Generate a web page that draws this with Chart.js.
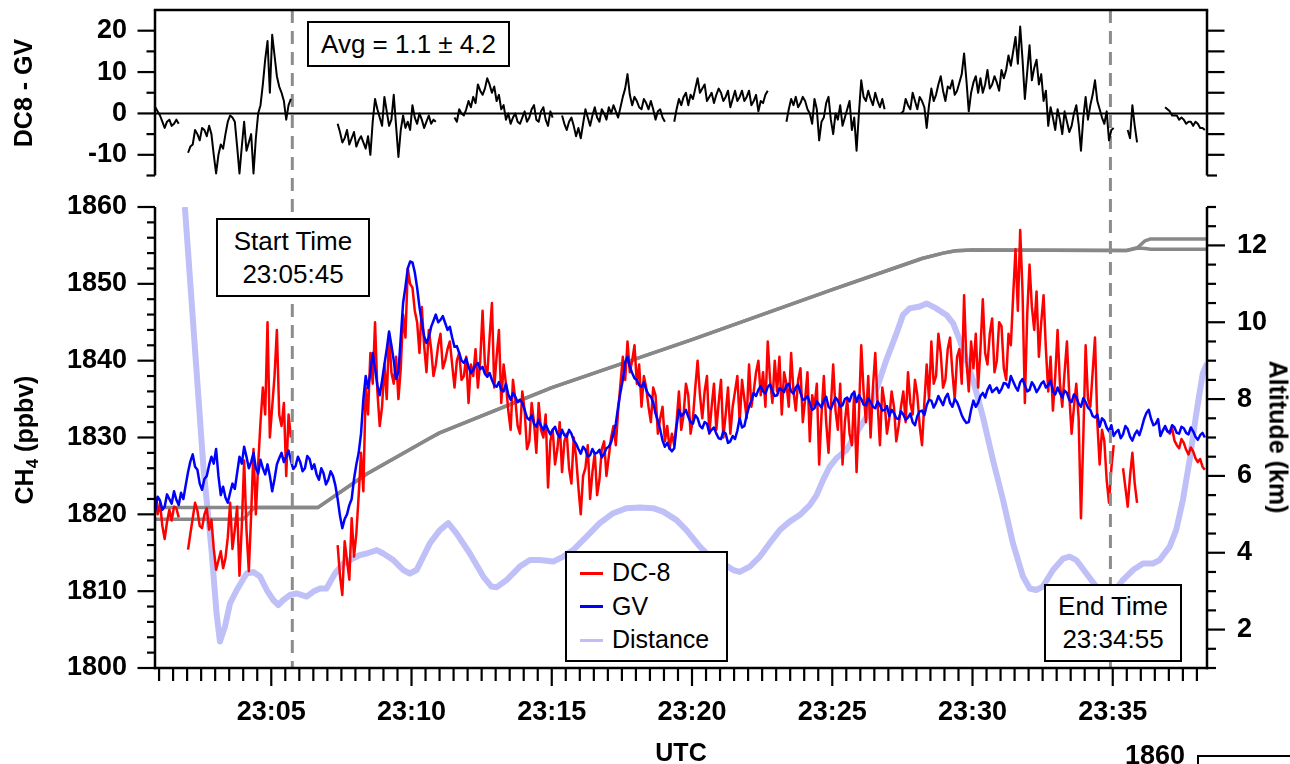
<!DOCTYPE html>
<html>
<head>
<meta charset="utf-8">
<title>CH4 DC-8 vs GV</title>
<script src="https://cdn.jsdelivr.net/npm/chart.js@4.4.1/dist/chart.umd.min.js"></script>
<style>
  html, body { margin: 0; padding: 0; background: #fff; }
  #wrap { position: relative; width: 1290px; height: 764px; overflow: hidden;
          font-family: "Liberation Sans", Arial, sans-serif; color: #000; }
  #wrap canvas { position: absolute; left: 0; top: 0; }
  .box { position: absolute; box-sizing: border-box; border: 2.5px solid #000; background: #fff;
         display: flex; flex-direction: column; justify-content: center; align-items: center;
         font-size: 26px; line-height: 33px; z-index: 5; }
  .title { position: absolute; font-weight: bold; font-size: 25px; line-height: 1; white-space: nowrap;
           z-index: 5; }
  .title sub { font-size: 17px; vertical-align: -5px; line-height: 0; }
  #legend { align-items: flex-start; font-size: 25px; }
  #legend .row { display: flex; align-items: center; height: 33.5px; line-height: 33.5px; padding-left: 13px; }
  #legend .swatch { display: inline-block; width: 23px; height: 3px; margin-right: 9px; }
  #stray { position: absolute; left: 1125px; top: 742px; font-weight: bold; font-size: 27px; line-height: 1; }
  #strayAxis { position: absolute; left: 1197px; top: 755px; width: 100px; height: 20px;
               border-top: 2.5px solid #000; border-left: 2.5px solid #000; }
</style>
</head>
<body>
<div id="wrap">
  <canvas id="bottomChart" width="1290" height="764"></canvas>
  <canvas id="topChart" width="1290" height="300" style="top:-60px"></canvas>

  <div class="title" style="left:23px; top:93px; transform: translate(-50%,-50%) rotate(-90deg);">DC8 - GV</div>
  <div class="title" style="left:24px; top:440px; transform: translate(-50%,-50%) rotate(-90deg);">CH<sub>4</sub> (ppbv)</div>
  <div class="title" style="left:1278px; top:437px; transform: translate(-50%,-50%) rotate(90deg);">Altitude (km)</div>
  <div class="title" style="left:681px; top:752px; transform: translate(-50%,-50%);">UTC</div>

  <div class="box" style="left:307px; top:21px; width:203px; height:46px;">Avg = 1.1 &plusmn; 4.2</div>
  <div class="box" style="left:216px; top:218px; width:154px; height:79px;"><div>Start Time</div><div>23:05:45</div></div>
  <div class="box" style="left:1044px; top:584px; width:138px; height:78px;"><div>End Time</div><div>23:34:55</div></div>

  <div id="legend" class="box" style="left:565px; top:551px; width:163px; height:111px;">
    <div class="row"><span class="swatch" style="background:rgb(255,0,0)"></span>DC-8</div>
    <div class="row"><span class="swatch" style="background:rgb(0,0,255)"></span>GV</div>
    <div class="row"><span class="swatch" style="background:rgb(196,188,246)"></span>Distance</div>
  </div>

  <div id="stray">1860</div>
  <div id="strayAxis"></div>
</div>

<script>
// samples every 5 s starting at 23:00:52 (x axis in minutes after 23:00)
const startSec = 52;
const stepSec = 5;

// DC-8 CH4 (ppbv)
const dc8Ch4 = [
  1822.3, 1820.0, 1821.5, 1818.5, 1816.8, 1819.0, 1820.6, 1819.2, 1821.0, 1820.8, 1819.6, null, null, null, 1815.4, 1817.5, 1819.5, 1821.5, 1820.5, 1818.5,
  1818.2, 1820.0, 1820.8, 1818.0, 1819.3, 1815.5, 1812.8, 1814.0, 1815.2, 1813.0, 1814.3, 1817.0, 1821.5, 1815.5, 1818.0, 1821.0, 1812.0, 1818.5, 1827.0, 1818.0,
  1812.6, 1820.0, 1828.5, 1820.0, 1826.5, 1832.0, 1836.5, 1833.0, 1845.0, 1830.0, 1834.0, 1838.0, 1844.0, 1833.0, 1831.5, 1834.5, 1825.0, 1833.0, 1830.0, null,
  null, null, null, null, null, null, null, null, null, null, null, null, null, null, null, null, null, null, 1816.0, 1812.0,
  1809.5, 1816.5, 1814.0, 1811.5, 1819.5, 1814.5, 1817.5, 1822.5, 1828.0, 1823.0, 1836.5, 1833.0, 1841.0, 1837.0, 1845.0, 1836.0, 1831.5, 1834.0, 1839.5, 1835.0,
  1843.5, 1838.5, 1837.0, 1840.5, 1835.0, 1839.0, 1846.0, 1843.0, 1852.0, 1850.0, 1849.5, 1846.5, 1845.0, 1841.0, 1847.0, 1842.0, 1838.5, 1844.0, 1841.5, 1838.0,
  1839.5, 1842.0, 1843.5, 1839.0, 1840.0, 1841.5, 1842.5, 1839.5, 1836.5, 1840.0, 1841.0, 1837.5, 1838.0, 1840.5, 1834.5, 1839.5, 1838.0, 1841.5, 1836.5, 1840.0,
  1846.5, 1839.5, 1838.0, 1843.0, 1847.5, 1836.5, 1840.5, 1844.0, 1834.5, 1839.5, 1837.0, 1833.5, 1831.0, 1837.5, 1835.0, 1831.5, 1830.5, 1836.0, 1833.5, 1828.5,
  1829.5, 1834.5, 1832.0, 1828.0, 1834.5, 1831.0, 1830.0, 1833.0, 1823.5, 1829.5, 1831.0, 1826.5, 1828.5, 1832.0, 1825.5, 1829.5, 1830.5, 1826.0, 1824.0, 1830.0,
  1827.5, 1823.5, 1820.0, 1825.0, 1826.0, 1829.0, 1822.0, 1825.5, 1828.0, 1822.5, 1824.5, 1828.5, 1829.5, 1825.0, 1827.5, 1830.0, 1831.5, 1829.0, 1833.5, 1837.0,
  1840.5, 1837.5, 1842.5, 1838.5, 1840.0, 1842.0, 1837.0, 1839.5, 1834.0, 1838.0, 1836.5, 1834.0, 1832.0, 1836.5, 1835.5, 1830.5, 1832.5, 1834.0, 1829.5, 1831.5,
  1828.5, 1830.5, 1829.0, 1832.0, 1836.0, 1831.0, 1833.0, 1837.0, 1835.5, 1830.5, 1832.5, 1836.5, 1840.0, 1835.5, 1832.5, 1836.0, 1838.0, 1830.5, 1834.0, 1837.0,
  1831.0, 1834.5, 1837.5, 1830.0, 1833.0, 1836.5, 1830.5, 1834.0, 1836.0, 1838.0, 1832.0, 1837.5, 1835.0, 1832.5, 1839.5, 1834.0, 1836.0, 1838.5, 1840.0, 1835.5,
  1838.5, 1834.0, 1842.5, 1837.5, 1834.5, 1840.0, 1836.0, 1840.5, 1833.0, 1838.5, 1837.0, 1834.0, 1841.0, 1836.0, 1833.5, 1837.5, 1839.0, 1832.0, 1835.0, 1838.5,
  1829.5, 1835.5, 1834.0, 1837.0, 1826.5, 1833.0, 1838.0, 1832.0, 1828.0, 1834.0, 1839.5, 1833.5, 1831.0, 1837.0, 1826.5, 1832.0, 1835.0, 1830.5, 1829.0, 1836.0,
  1825.5, 1833.0, 1842.0, 1836.0, 1832.0, 1838.0, 1830.0, 1836.5, 1841.0, 1834.5, 1829.0, 1836.5, 1834.5, 1830.5, 1832.5, 1836.0, 1834.0, 1829.5, 1831.5, 1834.0,
  1836.0, 1832.0, 1838.5, 1834.5, 1833.0, 1837.5, 1835.5, 1831.5, 1829.0, 1834.5, 1839.5, 1835.0, 1842.5, 1837.0, 1838.0, 1843.5, 1841.0, 1836.5, 1837.5, 1841.5,
  1843.0, 1838.5, 1835.0, 1840.5, 1841.5, 1837.0, 1848.5, 1840.0, 1836.0, 1842.5, 1839.0, 1843.5, 1836.5, 1841.5, 1848.0, 1841.0, 1839.5, 1843.5, 1845.5, 1838.5,
  1840.0, 1845.0, 1844.5, 1839.0, 1837.5, 1843.5, 1842.0, 1848.5, 1854.5, 1846.5, 1857.0, 1849.0, 1834.5, 1846.0, 1852.5, 1847.0, 1844.0, 1849.0, 1840.5, 1845.0,
  1848.5, 1841.5, 1836.0, 1840.5, 1833.5, 1838.0, 1844.0, 1837.0, 1834.0, 1838.5, 1842.5, 1835.5, 1830.5, 1834.0, 1837.0, 1832.5, 1819.5, 1830.0, 1842.0, 1835.0,
  1834.0, 1838.5, 1843.0, 1832.0, 1826.5, 1831.0, 1829.5, 1824.5, 1821.5, 1826.0, 1829.0, null, null, null, 1826.0, 1823.5, 1821.0, 1825.0, 1828.0, 1824.0,
  1821.5, null, null, null, null, null, null, null, null, null, null, null, 1831.3, 1830.8, 1830.5, 1831.2, 1829.6, 1829.0, 1828.6, 1829.8,
  1829.3, 1828.4, 1827.8, 1828.7, 1828.2, 1827.3, 1826.8, 1827.2, 1826.2, 1825.8
];

// GV CH4 (ppbv)
const gvCh4 = [
  1820.5, 1822.3, 1821.8, 1820.6, 1821.0, 1822.6, 1822.0, 1821.4, 1823.0, 1821.9, 1821.2, 1822.8, 1822.0, 1823.8, 1825.5, 1826.9, 1827.8, 1826.2, 1825.8, 1824.0,
  1823.2, 1824.6, 1825.0, 1826.4, 1827.5, 1826.6, 1828.5, 1825.0, 1822.5, 1823.6, 1822.2, 1821.5, 1822.8, 1824.0, 1823.3, 1825.4, 1827.5, 1826.6, 1828.8, 1827.5,
  1826.0, 1826.8, 1828.0, 1826.0, 1825.3, 1827.1, 1826.0, 1825.2, 1826.5, 1825.0, 1823.0, 1824.6, 1826.5, 1827.3, 1828.0, 1826.8, 1827.5, 1828.3, 1827.0, 1825.9,
  1826.3, 1827.5, 1826.8, 1825.6, 1826.0, 1827.6, 1827.2, 1825.9, 1826.5, 1825.2, 1824.5, 1826.0, 1825.3, 1823.9, 1824.5, 1825.6, 1825.0, 1823.8, 1822.0, 1819.8,
  1818.2, 1819.4, 1820.0, 1821.2, 1822.0, 1824.6, 1826.5, 1828.0, 1830.5, 1835.0, 1838.0, 1836.4, 1838.5, 1841.0, 1839.0, 1836.8, 1835.5, 1837.4, 1839.5, 1841.5,
  1843.8, 1842.0, 1840.0, 1837.6, 1838.5, 1843.0, 1847.5, 1849.6, 1852.0, 1852.9, 1852.8, 1851.5, 1849.5, 1847.0, 1845.0, 1843.2, 1842.3, 1843.0, 1844.4, 1845.2,
  1846.0, 1845.0, 1845.3, 1845.8, 1844.9, 1844.0, 1844.4, 1843.0, 1841.8, 1841.9, 1841.0, 1840.0, 1839.7, 1840.3, 1839.2, 1838.4, 1838.8, 1839.4, 1839.7, 1838.9,
  1839.2, 1838.3, 1837.9, 1838.4, 1837.5, 1836.8, 1836.6, 1837.2, 1836.2, 1836.0, 1837.0, 1835.6, 1834.9, 1835.8, 1835.3, 1834.6, 1834.9, 1834.5, 1833.6, 1832.6,
  1832.3, 1832.9, 1831.8, 1831.4, 1832.3, 1831.5, 1831.0, 1831.7, 1831.0, 1830.4, 1831.0, 1831.4, 1830.5, 1830.0, 1831.0, 1830.3, 1830.1, 1831.0, 1830.5, 1829.6,
  1829.2, 1828.5, 1827.9, 1828.8, 1828.4, 1827.5, 1827.7, 1828.5, 1827.9, 1828.0, 1828.4, 1827.4, 1827.9, 1828.6, 1828.8, 1829.4, 1830.5, 1831.8, 1834.0, 1835.9,
  1837.5, 1839.8, 1840.5, 1839.2, 1838.4, 1837.7, 1837.5, 1836.8, 1836.6, 1837.2, 1836.2, 1835.6, 1835.3, 1834.6, 1833.1, 1832.2, 1831.0, 1829.6, 1828.8, 1829.3,
  1828.6, 1828.2, 1828.6, 1831.5, 1833.6, 1832.8, 1833.1, 1833.6, 1832.7, 1832.0, 1831.8, 1832.9, 1832.5, 1831.5, 1831.2, 1832.0, 1831.8, 1830.6, 1831.0, 1831.3,
  1830.5, 1829.9, 1829.8, 1830.8, 1830.5, 1829.3, 1829.5, 1830.2, 1829.8, 1830.9, 1832.5, 1831.3, 1831.5, 1832.9, 1834.0, 1834.8, 1835.8, 1835.4, 1836.2, 1836.7,
  1836.0, 1835.7, 1836.6, 1836.9, 1836.0, 1835.4, 1835.5, 1836.4, 1836.2, 1835.9, 1836.8, 1837.0, 1836.0, 1835.7, 1836.5, 1836.9, 1835.8, 1834.9, 1835.0, 1835.4,
  1834.5, 1833.6, 1833.8, 1834.7, 1834.3, 1833.9, 1834.8, 1835.3, 1834.0, 1833.7, 1834.5, 1835.2, 1834.8, 1834.0, 1834.2, 1835.0, 1835.2, 1834.7, 1835.6, 1835.9,
  1834.6, 1835.5, 1835.0, 1834.3, 1834.2, 1835.1, 1834.6, 1834.0, 1833.8, 1834.7, 1834.2, 1833.5, 1833.6, 1834.1, 1832.8, 1833.6, 1833.2, 1832.5, 1832.4, 1833.4,
  1833.0, 1832.3, 1832.6, 1833.1, 1832.0, 1831.6, 1832.8, 1833.4, 1833.5, 1832.9, 1834.2, 1834.9, 1834.8, 1833.9, 1834.5, 1835.4, 1834.8, 1834.2, 1835.2, 1835.7,
  1834.5, 1834.0, 1835.0, 1834.6, 1833.8, 1832.9, 1832.3, 1831.9, 1832.0, 1833.6, 1834.8, 1834.0, 1834.5, 1835.4, 1835.8, 1835.2, 1836.2, 1836.8, 1835.9, 1836.2,
  1836.5, 1835.8, 1836.3, 1837.1, 1837.0, 1836.5, 1838.0, 1837.3, 1836.6, 1836.1, 1837.2, 1837.6, 1836.8, 1836.0, 1836.2, 1837.2, 1836.7, 1835.9, 1836.4, 1837.0,
  1837.3, 1836.5, 1836.8, 1837.4, 1836.0, 1835.6, 1836.5, 1835.8, 1835.2, 1836.1, 1835.8, 1834.9, 1834.6, 1835.6, 1835.3, 1834.4, 1834.0, 1835.1, 1834.6, 1833.9,
  1833.6, 1832.8, 1832.6, 1833.0, 1831.4, 1832.5, 1832.2, 1831.3, 1830.8, 1831.6, 1830.2, 1830.7, 1831.0, 1829.9, 1830.4, 1831.5, 1831.1, 1830.1, 1829.6, 1830.4,
  1830.9, 1830.3, 1831.3, 1832.4, 1833.2, 1833.6, 1832.4, 1831.6, 1831.8, 1832.4, 1830.2, 1830.9, 1831.5, 1830.8, 1830.7, 1831.6, 1831.3, 1830.6, 1830.5, 1831.4,
  1831.2, 1830.6, 1830.4, 1831.3, 1830.8, 1830.1, 1829.7, 1830.3, 1830.6, 1830.0
];

// DC8 - GV difference (ppbv), top panel
const dc8MinusGv = [
  1.5, 0.5, -0.5, -2.0, -3.5, -2.0, -1.5, -3.0, -2.5, -1.5, -2.5, null, null, null, -9.5, -8.0, -7.5, -4.0, -5, -6.5,
  -3.5, -4.0, -5.5, -3.0, -5, -10.0, -14.5, -10.0, -7.5, -8.5, -5, -2.0, -0.5, -1.0, -2, -8.0, -14.5, -8.0, -2, -9.0,
  -7, -5.0, -14.5, -6.0, 0, 2.0, 7, 13.0, 17.5, 5.0, 19, 14.0, 9, 6.5, 5, 3.0, -1.5, 2.0, 3.5, null,
  null, null, null, null, null, null, null, null, null, null, null, null, null, null, null, null, null, null, -2.5, -4.5,
  -7, -6.0, -4, -7.5, -6, -4.5, -8, -6.5, -5.5, -7.0, -8.5, -5.5, -10, -2.0, 3.5, 1.0, -1, -3.0, 4, 0.5,
  -3, -1.5, 4.5, -3.0, -10.5, -4.0, -0.5, -3.5, -2, -4.0, 2, -1.0, -2.5, 0.0, -1.5, -3.5, -2, -0.5, -2.5, -1.5,
  -2, null, null, null, null, null, null, null, -1, -2.0, 1, 0.0, -0.5, 1.0, 3, 1.5, 4, 2.5, 7, 5.5,
  4.5, 6.0, 8.5, 7.0, 5, 6.5, 3, 4.5, 1, 2.0, -1.5, 0.0, -2.5, -1.0, 0, -2.0, -2.5, -1.0, 0.5, -2.0,
  -1, 1.0, 2, -1.5, -2, 0.5, 1.5, -1.5, -3, 0.5, -1, null, null, null, -0.5, -2.5, -4, -2.0, -1, -3.0,
  -5.5, -3.5, -6, -2.5, 1, -1.0, -3, -0.5, 1.5, -1.0, -2, 1.0, 0, -1.5, 1.5, 0.0, 2, 0.5, -1, 1.5,
  4, 6.0, 9.5, 4.5, 2, 4.0, 3, 1.5, 1, 3.5, 2.5, 1.0, 3, 1.0, -1.5, 0.5, 1, -1.0, -2, null,
  null, null, -2, 1.0, 3.5, 2.0, 4, 5.0, 2, 4.5, 3.5, 6.0, 8.5, 5.0, 6, 7.0, 3, 4.0, 5, 2.5,
  4.5, 6.0, 5, 3.0, 4, 5.5, 1.5, 3.5, 5.5, 3.0, 4, 5.5, 3, 4.0, 5.5, 2.0, 3, 4.5, 0.5, 3.0,
  2.5, 4.5, 5.5, null, null, null, null, null, null, null, -2, 1.0, 3.5, 2.0, 4, 1.5, 2.5, 4.0, 3, 1.0,
  0, -2.5, 3.5, 1.0, -6.5, -2.0, -1, 2.5, 4, -1.5, -5, 0.0, -1.5, 2.0, -3, -1.0, 1, 3.0, -4, -1.0,
  -9, 0.0, 8, 4.0, 3, 5.5, 3.5, 2.0, 5, 3.0, 1.5, 3.5, 1, null, null, null, null, null, null, 0.0,
  0.5, 3.5, 2, 1.0, 5, 3.0, 1, 4.0, 3, 1.5, -3.5, 2.0, 6, 3.0, 4.5, 7.0, 9, 5.5, 3, 6.5,
  6, 8.0, 4.5, 5.5, 7.5, 9.5, 14.5, 8.0, 0.5, 5.0, 7.5, 9.0, 5, 8.5, 5, 7.0, 10.5, 6.0, 7, 9.0,
  7.5, 5.5, 10.5, 8.5, 10.5, 14.0, 11.5, 15.0, 18.5, 12.0, 21, 13.0, 3.5, 10.0, 16.5, 8.0, 11, 13.0, 7, 9.5,
  3, 5.5, -3, 1.5, -1, -4.0, 1, -1.5, -5, 0.5, -2, -4.5, -3, 0.0, 2, -2.5, -9, -1.0, 4, -1.5,
  2, 4.5, 8, 3.0, 1, -1.0, -2.5, 0.5, -6.5, -4.0, -3.5, null, null, null, null, null, -4, -6.0, 2, -3.0,
  -7, null, null, null, null, null, null, null, null, null, null, null, 1.5, 1.0, 0.5, -0.5, -0.5, -0.5, -1.5, -1.0,
  -1.5, -2.5, -2, -2.0, -3, -2.0, -2.5, -3.5, -3.5, -4.0
];

// distance between aircraft (km), minutes after 23:00
const distTime = [
  1.92, 2.58, 2.87, 3.05, 3.17, 3.35, 3.53, 3.77, 4.12, 4.36,
  4.60, 4.84, 5.07, 5.25, 5.43, 5.67, 5.90, 6.26, 6.50, 6.74,
  6.97, 7.27, 7.57, 7.80, 8.16, 8.40, 8.76, 8.99, 9.35, 9.71,
  9.94, 10.18, 10.42, 10.66, 11.01, 11.31, 11.61, 12.08, 12.56, 12.85,
  13.03, 13.39, 13.86, 14.22, 14.58, 15.05, 15.41, 15.76, 16.24, 16.71,
  17.19, 17.66, 18.14, 18.61, 18.97, 19.45, 19.80, 20.28, 20.63, 21.11,
  21.47, 21.70, 22.06, 22.42, 22.77, 23.13, 23.48, 23.84, 24.20, 24.44,
  24.67, 24.91, 25.15, 25.50, 25.86, 26.22, 26.57, 26.93, 27.29, 27.52,
  27.76, 28.12, 28.36, 28.71, 29.07, 29.31, 29.54, 29.78, 30.02, 30.37,
  30.73, 31.09, 31.44, 31.80, 32.04, 32.27, 32.51, 32.87, 33.23, 33.46,
  33.70, 34.06, 34.41, 34.77, 35.13, 35.36, 35.72, 36.08, 36.43, 36.67,
  37.03, 37.26, 37.50, 37.74, 37.98, 38.21, 38.36
];
const distKm = [
  13.0, 6.24, 4.07, 2.42, 1.69, 2.08, 2.68, 3.03, 3.46, 3.50,
  3.38, 3.03, 2.77, 2.64, 2.77, 2.90, 2.94, 2.86, 2.99, 3.07,
  3.07, 3.46, 3.72, 3.81, 3.94, 3.98, 4.07, 3.98, 3.81, 3.55,
  3.46, 3.55, 3.90, 4.25, 4.59, 4.77, 4.50, 3.98, 3.38, 3.12,
  3.10, 3.29, 3.64, 3.81, 3.81, 3.77, 3.90, 4.07, 4.42, 4.77,
  5.03, 5.16, 5.18, 5.16, 5.07, 4.85, 4.59, 4.16, 3.90, 3.72,
  3.55, 3.50, 3.64, 3.90, 4.25, 4.59, 4.81, 4.98, 5.24, 5.50,
  5.89, 6.24, 6.46, 6.67, 7.11, 7.54, 8.24, 9.02, 9.71, 10.19,
  10.36, 10.41, 10.49, 10.36, 10.19, 9.97, 9.54, 9.02, 8.50, 7.54,
  6.41, 5.37, 4.25, 3.38, 3.07, 3.03, 3.12, 3.55, 3.85, 3.90,
  3.81, 3.46, 3.12, 3.00, 3.07, 3.29, 3.55, 3.72, 3.72, 3.81,
  4.16, 4.59, 5.37, 6.41, 7.63, 8.67, 8.93
];

// altitudes of the two aircraft (km)
const altTimeA = [0.86, 6.67, 8.40, 10.65, 11.0, 15.0, 20.0, 25.0, 28.2, 28.95, 29.4, 30.0, 35.5, 35.9, 36.15, 36.35, 38.36];
const altKmA   = [5.18, 5.18, 6.05, 6.98, 7.12, 8.30, 9.55, 10.85, 11.66, 11.80, 11.86, 11.88, 11.87, 11.95, 12.12, 12.17, 12.17];
const altTimeB = [0.86, 4.0, 4.4, 6.67, 8.40, 10.65, 11.0, 15.0, 20.0, 25.0, 28.2, 28.95, 29.4, 30.0, 35.5, 35.9, 36.15, 36.35, 38.36];
const altKmB   = [4.87, 4.87, 5.18, 5.18, 6.05, 6.98, 7.12, 8.30, 9.55, 10.85, 11.66, 11.80, 11.86, 11.88, 11.87, 11.93, 11.92, 11.90, 11.90];

// axes
const timeTicks = [5, 10, 15, 20, 25, 30, 35];
const timeTickLabels = ['23:05', '23:10', '23:15', '23:20', '23:25', '23:30', '23:35'];
const ch4Ticks = [1800, 1810, 1820, 1830, 1840, 1850, 1860];
const altTicks = [2, 4, 6, 8, 10, 12];
const diffTicks = [-10, 0, 10, 20];
const markerTimes = [5 + 45 / 60, 34 + 55 / 60];   // 23:05:45 and 23:34:55

const xMin = 0.855, xMax = 38.36;
const topPanelTop = 10, topPanelBottom = 175.5;

const sampleMinutes = dc8Ch4.map((_, i) => (startSec + i * stepSec) / 60);
const pts = (xs, ys) => xs.map((x, i) => ({ x: x, y: ys[i] }));

const tickFont = { family: 'Liberation Sans', size: 27, weight: 'bold' };

function strokeLine(ctx, x1, y1, x2, y2) {
  ctx.beginPath();
  ctx.moveTo(x1, y1);
  ctx.lineTo(x2, y2);
  ctx.stroke();
}

function fixedTicks(values) {
  return function (scale) { scale.ticks = values.map(v => ({ value: v })); };
}

// frame, ticks and the two time markers of the lower panel
const bottomFrame = {
  id: 'bottomFrame',
  afterDatasetsDraw(chart) {
    const ctx = chart.ctx, a = chart.chartArea, xs = chart.scales.x;
    ctx.save();
    ctx.strokeStyle = 'rgb(140,140,140)';
    ctx.lineWidth = 3;
    ctx.setLineDash([13, 8]);
    markerTimes.forEach(t => {
      const x = xs.getPixelForValue(t);
      strokeLine(ctx, x, topPanelTop, x, a.bottom);
    });
    ctx.restore();
  },
  afterDraw(chart) {
    const ctx = chart.ctx, a = chart.chartArea;
    const xs = chart.scales.x, ys = chart.scales.y, ya = chart.scales.yAlt;
    ctx.save();
    ctx.strokeStyle = '#000';
    ctx.lineWidth = 2.5;
    strokeLine(ctx, a.left, a.top, a.left, a.bottom + 1.2);
    strokeLine(ctx, a.right, a.top, a.right, a.bottom + 1.2);
    strokeLine(ctx, a.left - 1.2, a.bottom, a.right + 1.2, a.bottom);
    ctx.lineWidth = 2.2;
    for (let v = 1800; v <= 1860; v += 2) {
      const y = ys.getPixelForValue(v);
      strokeLine(ctx, a.left - (v % 10 === 0 ? 17.5 : 8), y, a.left, y);
    }
    for (let v = 1; v <= 13; v += 0.5) {
      const y = ya.getPixelForValue(v);
      strokeLine(ctx, a.right, y, a.right + (altTicks.includes(v) ? 18 : 9), y);
    }
    for (let m = 1; m <= 38; m += 0.5) {
      const x = xs.getPixelForValue(m);
      strokeLine(ctx, x, a.bottom, x, a.bottom + (timeTicks.includes(m) ? 18 : 13));
    }
    ctx.restore();
  }
};

// frame, zero line and ticks of the upper panel
const topFrame = {
  id: 'topFrame',
  beforeDatasetsDraw(chart) {
    const ctx = chart.ctx, a = chart.chartArea, ys = chart.scales.y;
    ctx.save();
    ctx.strokeStyle = '#000';
    ctx.lineWidth = 2;
    const y0 = ys.getPixelForValue(0);
    strokeLine(ctx, a.left, y0, a.right, y0);
    ctx.restore();
  },
  afterDraw(chart) {
    const ctx = chart.ctx, a = chart.chartArea, ys = chart.scales.y;
    ctx.save();
    ctx.strokeStyle = '#000';
    ctx.lineWidth = 2.5;
    strokeLine(ctx, a.left - 1.2, a.top, a.right + 1.2, a.top);
    strokeLine(ctx, a.left, a.top, a.left, a.bottom);
    strokeLine(ctx, a.right, a.top, a.right, a.bottom);
    ctx.lineWidth = 2.2;
    for (let v = -15; v <= 20; v += 5) {
      const y = ys.getPixelForValue(v);
      const major = diffTicks.includes(v);
      strokeLine(ctx, a.left - (major ? 17.5 : 8.5), y, a.left, y);
      strokeLine(ctx, a.right, y, a.right + (v === -15 ? 10 : 17.5), y);
    }
    ctx.restore();
  }
};

const lineElements = { point: { radius: 0 }, line: { tension: 0, fill: false, borderJoinStyle: 'round' } };

new Chart(document.getElementById('bottomChart'), {
  type: 'line',
  data: {
    datasets: [
      { label: 'GV', data: pts(sampleMinutes, gvCh4), yAxisID: 'y',
        borderColor: 'rgb(0,0,255)', borderWidth: 2.5 },
      { label: 'DC-8', data: pts(sampleMinutes, dc8Ch4), yAxisID: 'y',
        borderColor: 'rgb(255,0,0)', borderWidth: 2.5 },
      { label: 'Altitude DC-8', data: pts(altTimeA, altKmA), yAxisID: 'yAlt',
        borderColor: 'rgb(136,136,136)', borderWidth: 3.5 },
      { label: 'Altitude GV', data: pts(altTimeB, altKmB), yAxisID: 'yAlt',
        borderColor: 'rgb(136,136,136)', borderWidth: 3.5 },
      { label: 'Distance', data: pts(distTime, distKm), yAxisID: 'yAlt',
        borderColor: 'rgb(192,192,248)', borderWidth: 6 }
    ]
  },
  options: {
    responsive: false,
    animation: false,
    devicePixelRatio: 1,
    layout: { padding: { top: 207, left: 0, right: 0, bottom: 0 }, autoPadding: false },
    plugins: { legend: { display: false }, tooltip: { enabled: false } },
    elements: lineElements,
    scales: {
      x: {
        type: 'linear', position: 'bottom', min: xMin, max: xMax,
        grid: { display: false, drawTicks: false }, border: { display: false },
        afterBuildTicks: fixedTicks(timeTicks),
        afterFit: s => { s.height = 96; },
        ticks: { font: tickFont, color: '#000', padding: 28, maxRotation: 0,
                 callback: v => timeTickLabels[timeTicks.indexOf(v)] }
      },
      y: {
        type: 'linear', position: 'left', min: 1800, max: 1860,
        grid: { display: false, drawTicks: false }, border: { display: false },
        afterBuildTicks: fixedTicks(ch4Ticks),
        afterFit: s => { s.width = 155; },
        ticks: { font: tickFont, color: '#000', padding: 28, callback: v => String(v) }
      },
      yAlt: {
        type: 'linear', position: 'right', min: 1, max: 13,
        grid: { display: false, drawTicks: false }, border: { display: false },
        afterBuildTicks: fixedTicks(altTicks),
        afterFit: s => { s.width = 83; },
        ticks: { font: tickFont, color: '#000', padding: 30, callback: v => String(v) }
      }
    }
  },
  plugins: [bottomFrame]
});

const topCanvas = document.getElementById('topChart');
const topChart = new Chart(topCanvas, {
  type: 'line',
  data: {
    datasets: [
      { label: 'DC8 - GV', data: pts(sampleMinutes, dc8MinusGv),
        borderColor: '#000', borderWidth: 2 }
    ]
  },
  options: {
    responsive: false,
    animation: false,
    devicePixelRatio: 1,
    layout: { padding: { top: 70, left: 0, right: 83, bottom: 64.5 }, autoPadding: false },
    plugins: { legend: { display: false }, tooltip: { enabled: false } },
    elements: lineElements,
    scales: {
      x: { type: 'linear', display: false, min: xMin, max: xMax },
      y: {
        type: 'linear', position: 'left', min: -15, max: 25,
        grid: { display: false, drawTicks: false }, border: { display: false },
        afterBuildTicks: fixedTicks(diffTicks),
        afterFit: s => { s.width = 155; },
        ticks: { font: tickFont, color: '#000', padding: 28, callback: v => String(v) }
      }
    }
  },
  plugins: [topFrame]
});

// keep the upper plot area at its place on the page
(function pinTopPanel() {
  const a = topChart.chartArea;
  const extra = (a.bottom - a.top) - (topPanelBottom - topPanelTop);
  if (Math.abs(extra) > 0.1) {
    topChart.options.layout.padding.bottom += extra;
    topChart.update();
  }
  topCanvas.style.top = (topPanelTop - topChart.chartArea.top) + 'px';
})();
</script>
</body>
</html>
